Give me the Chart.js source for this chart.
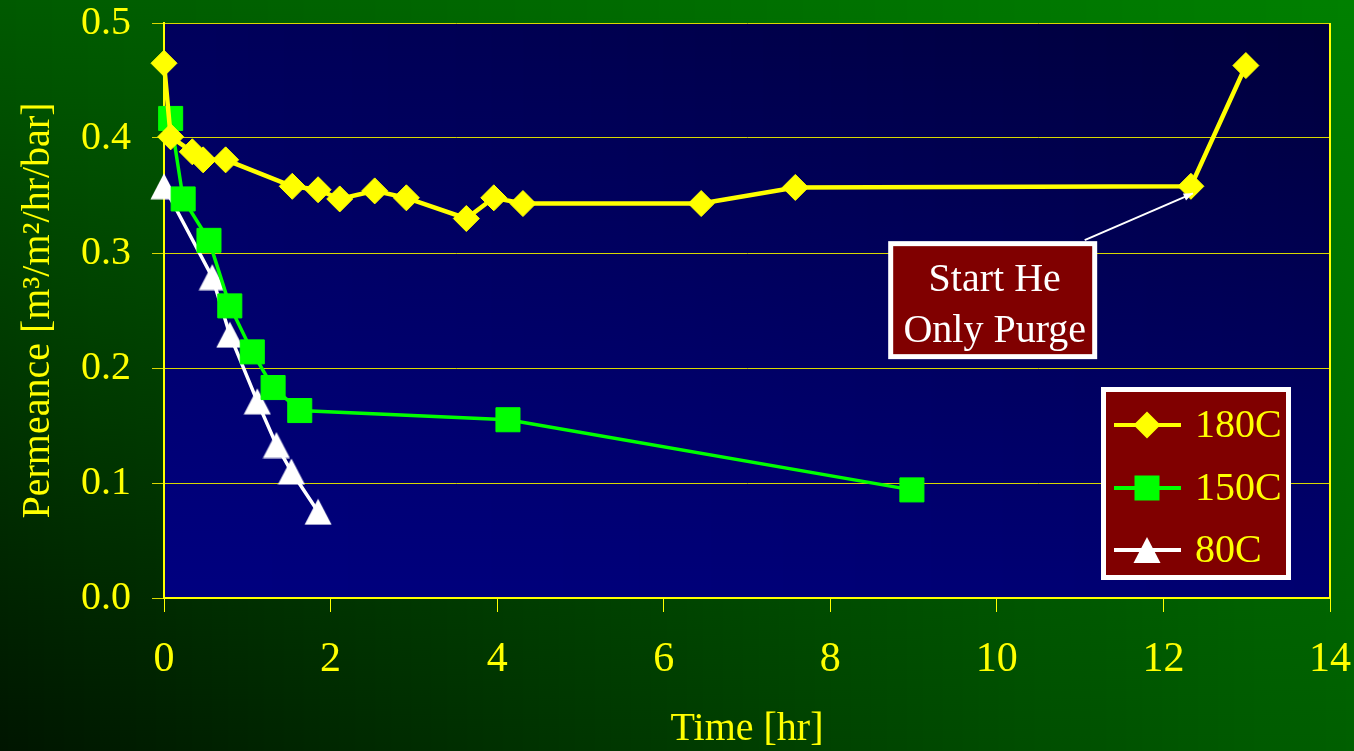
<!DOCTYPE html>
<html>
<head>
<meta charset="utf-8">
<title>Permeance vs Time</title>
<script src="https://cdn.jsdelivr.net/npm/chart.js"></script>
<style>
    html, body { margin: 0; padding: 0; background: #004000; overflow: hidden; }
    #grafica { display: block; }
</style>
</head>
<body>
<canvas id="grafica" width="1354" height="751"></canvas>
<script>
// Datos (tiempo en horas, permeancia)
const series = ['180C', '150C', '80C'];

const tiempo180 = [0, 0.08, 0.34, 0.47, 0.74, 1.54, 1.85, 2.11, 2.53, 2.91, 3.63, 3.96, 4.31, 6.45, 7.58, 12.33, 12.99];
const perm180 = [0.465, 0.401, 0.388, 0.381, 0.381, 0.358, 0.355, 0.347, 0.354, 0.348, 0.330, 0.348, 0.343, 0.343, 0.357, 0.358, 0.463];

const tiempo150 = [0.08, 0.23, 0.54, 0.79, 1.06, 1.31, 1.63, 4.13, 8.98];
const perm150 = [0.417, 0.347, 0.311, 0.254, 0.214, 0.183, 0.163, 0.155, 0.094];

const tiempo80 = [0, 0.58, 0.79, 1.12, 1.35, 1.53, 1.85];
const perm80 = [0.358, 0.279, 0.229, 0.171, 0.133, 0.110, 0.075];

const ticksX = [0, 2, 4, 6, 8, 10, 12, 14];
const ticksY = [0, 0.1, 0.2, 0.3, 0.4, 0.5];

// Nota "Start He Only Purge": centro de la caja y punto al que apunta (en unidades de datos)
const notaTexto = ['Start He', 'Only Purge'];
const notaCentro = { x: 9.95, y: 0.259 };
const notaPunto = { x: 12.33, y: 0.358 };

const amarillo = '#ffff00';
const verde = '#00ff00';
const blanco = '#ffffff';
const granate = '#800000';
const fuente = '"Liberation Serif", "Times New Roman", serif';

Chart.defaults.font.family = fuente;

function puntos(xs, ys) {
    return xs.map((x, i) => ({ x: x, y: ys[i] }));
}

// triangulo centrado en su caja (como en Excel)
function trianguloCanvas(color) {
    const c = document.createElement('canvas');
    c.width = 28;
    c.height = 27;
    const g = c.getContext('2d');
    g.fillStyle = color;
    g.beginPath();
    g.moveTo(14, 0.5);
    g.lineTo(27.5, 26.5);
    g.lineTo(0.5, 26.5);
    g.closePath();
    g.fill();
    return c;
}

function mezcla(a, b, t) {
    const c = a.map((v, i) => Math.round(v + (b[i] - v) * t));
    return `rgb(${c[0]},${c[1]},${c[2]})`;
}

// degradado bilineal con tiras verticales
function degradado(ctx, x0, y0, w, h, tl, tr, bl, br) {
    const n = Math.ceil(w / 4);
    for (let i = 0; i < n; i++) {
        const u = (i + 0.5) / n;
        const g = ctx.createLinearGradient(0, y0, 0, y0 + h);
        g.addColorStop(0, mezcla(tl, tr, u));
        g.addColorStop(1, mezcla(bl, br, u));
        ctx.fillStyle = g;
        ctx.fillRect(x0 + i * w / n, y0, w / n + 1, h);
    }
}

const fondo = {
    id: 'fondo',
    beforeDraw(chart) {
        const { ctx, width, height, chartArea: a } = chart;
        ctx.save();
        degradado(ctx, 0, 0, width, height, [0, 90, 0], [0, 128, 0], [0, 21, 0], [0, 95, 0]);
        degradado(ctx, a.left, a.top, a.right - a.left, a.bottom - a.top, [0, 0, 92], [0, 0, 58], [0, 0, 128], [0, 0, 112]);
        ctx.restore();
    },
    beforeDatasetsDraw(chart) {
        const { ctx, chartArea: a } = chart;
        ctx.save();
        ctx.strokeStyle = amarillo;
        ctx.lineWidth = 2;
        ctx.beginPath();
        ctx.moveTo(a.right, a.top);
        ctx.lineTo(a.right, a.bottom);
        ctx.stroke();
        ctx.restore();
    }
};

const notaYLeyenda = {
    id: 'notaYLeyenda',
    afterDraw(chart) {
        const { ctx, chartArea: a, scales } = chart;
        ctx.save();

        // caja de la nota
        const cx = scales.x.getPixelForValue(notaCentro.x);
        const cy = scales.y.getPixelForValue(notaCentro.y);
        const w = 209, h = 118;
        ctx.fillStyle = blanco;
        ctx.fillRect(cx - w / 2, cy - h / 2, w, h);
        ctx.fillStyle = granate;
        ctx.fillRect(cx - w / 2 + 5, cy - h / 2 + 5, w - 10, h - 10);
        ctx.fillStyle = blanco;
        ctx.font = `40px ${fuente}`;
        ctx.textAlign = 'center';
        ctx.textBaseline = 'alphabetic';
        ctx.fillText(notaTexto[0], cx + 2, cy - 9);
        ctx.fillText(notaTexto[1], cx + 2, cy + 42);

        // flecha
        const px = scales.x.getPixelForValue(notaPunto.x) + 2;
        const py = scales.y.getPixelForValue(notaPunto.y) + 7;
        const sx = cx + 92, sy = cy - h / 2 - 1;
        const ang = Math.atan2(py - sy, px - sx);
        ctx.strokeStyle = blanco;
        ctx.lineWidth = 2;
        ctx.beginPath();
        ctx.moveTo(sx, sy);
        ctx.lineTo(px, py);
        ctx.stroke();
        ctx.beginPath();
        ctx.moveTo(px, py);
        ctx.lineTo(px - 10 * Math.cos(ang - 0.4), py - 10 * Math.sin(ang - 0.4));
        ctx.lineTo(px - 10 * Math.cos(ang + 0.4), py - 10 * Math.sin(ang + 0.4));
        ctx.closePath();
        ctx.fillStyle = blanco;
        ctx.fill();

        // leyenda
        const lw = 190, lh = 193;
        const lx = a.right - 39 - lw;
        const ly = a.bottom - 18 - lh;
        ctx.fillStyle = blanco;
        ctx.fillRect(lx, ly, lw, lh);
        ctx.fillStyle = granate;
        ctx.fillRect(lx + 5, ly + 5, lw - 10, lh - 10);

        const filas = [38, 101, 163];
        const colores = [amarillo, verde, blanco];
        ctx.textAlign = 'left';
        ctx.textBaseline = 'middle';
        filas.forEach((dy, i) => {
            const yy = ly + dy;
            const mx = lx + 46;
            ctx.strokeStyle = colores[i];
            ctx.lineWidth = 4;
            ctx.beginPath();
            ctx.moveTo(lx + 13, yy);
            ctx.lineTo(lx + 80, yy);
            ctx.stroke();
            ctx.fillStyle = colores[i];
            ctx.beginPath();
            if (i === 0) {
                ctx.moveTo(mx, yy - 13.5);
                ctx.lineTo(mx + 13.5, yy);
                ctx.lineTo(mx, yy + 13.5);
                ctx.lineTo(mx - 13.5, yy);
            } else if (i === 1) {
                ctx.rect(mx - 12.5, yy - 12.5, 25, 25);
            } else {
                ctx.moveTo(mx, yy - 13);
                ctx.lineTo(mx + 13.5, yy + 13);
                ctx.lineTo(mx - 13.5, yy + 13);
            }
            ctx.closePath();
            ctx.fill();
            ctx.fillStyle = amarillo;
            ctx.fillText(series[i], lx + 94, yy + 1);
        });

        ctx.restore();
    }
};

const ctx = document.getElementById('grafica').getContext('2d');

window.myChart = new Chart(ctx, {
    type: 'line',
    data: {
        datasets: [{
            label: series[0],
            data: puntos(tiempo180, perm180),
            borderColor: amarillo,
            backgroundColor: amarillo,
            borderWidth: 4.5,
            pointStyle: 'rectRot',
            pointRadius: 13,
            pointBorderWidth: 1,
            clip: false,
        }, {
            label: series[1],
            data: puntos(tiempo150, perm150),
            borderColor: verde,
            backgroundColor: verde,
            borderWidth: 3.5,
            pointStyle: 'rect',
            pointRadius: 17,
            pointBorderWidth: 1,
            clip: false,
        }, {
            label: series[2],
            data: puntos(tiempo80, perm80),
            borderColor: blanco,
            backgroundColor: blanco,
            borderWidth: 3.5,
            pointStyle: trianguloCanvas(blanco),
            pointRadius: 14,
            clip: false,
        }],
    },
    options: {
        responsive: false,
        devicePixelRatio: 1,
        animation: false,
        layout: { padding: 0 },
        plugins: {
            legend: { display: false },
            tooltip: { enabled: false },
        },
        scales: {
            x: {
                type: 'linear',
                min: 0,
                max: 14,
                afterBuildTicks: (axis) => { axis.ticks = ticksX.map(v => ({ value: v })); },
                afterFit: (axis) => {
                    axis.height = 153;
                    axis.paddingLeft = 0;
                    axis.paddingRight = 24;
                },
                ticks: {
                    color: amarillo,
                    font: { size: 42 },
                    padding: 23,
                    maxRotation: 0,
                },
                grid: {
                    drawOnChartArea: false,
                    color: amarillo,
                    tickLength: 14,
                    lineWidth: 1,
                },
                border: { color: amarillo, width: 2 },
                title: {
                    display: true,
                    text: 'Time [hr]',
                    color: amarillo,
                    font: { size: 40, lineHeight: 1.1 },
                    padding: { top: 0, bottom: 0 },
                },
            },
            y: {
                type: 'linear',
                min: 0,
                max: 0.5,
                afterBuildTicks: (axis) => { axis.ticks = ticksY.map(v => ({ value: v })); },
                afterFit: (axis) => {
                    axis.width = 164;
                    axis.paddingTop = 23;
                    axis.paddingBottom = 0;
                },
                ticks: {
                    color: amarillo,
                    font: { size: 40 },
                    padding: 21,
                    callback: (v) => Number(v).toFixed(1),
                },
                grid: {
                    color: '#d8d800',
                    tickLength: 12,
                    lineWidth: 1,
                },
                border: { color: amarillo, width: 2 },
                title: {
                    display: true,
                    text: 'Permeance [m³/m²/hr/bar]',
                    color: amarillo,
                    font: { size: 40, lineHeight: 1.2 },
                    padding: { top: 14, bottom: 0 },
                },
            },
        },
    },
    plugins: [fondo, notaYLeyenda],
});
</script>
</body>
</html>
